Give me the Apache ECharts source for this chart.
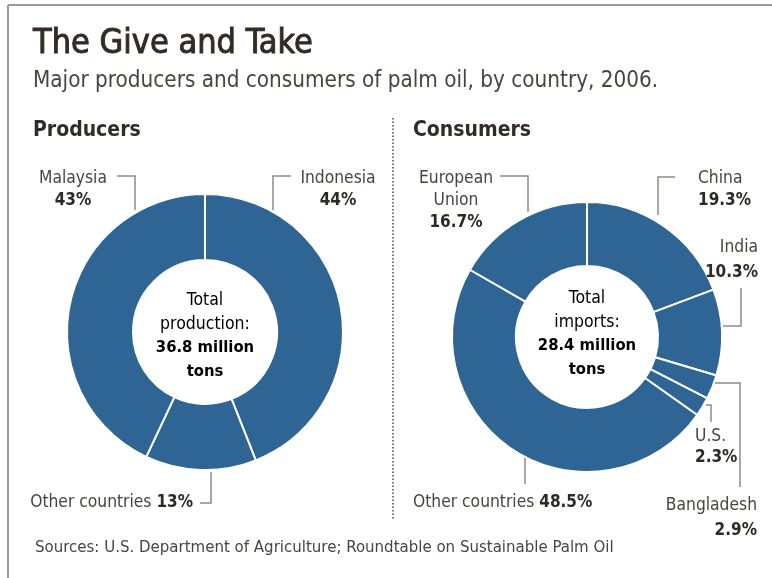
<!DOCTYPE html>
<html>
<head>
<meta charset="utf-8">
<script src="https://cdn.jsdelivr.net/npm/echarts@6/dist/echarts.min.js"></script>
<style>
html,body{margin:0;padding:0;background:#fff;}
#c{width:772px;height:578px;}
</style>
</head>
<body>
<div id="c"></div>
<script>
// ---- data ----
const producerNames = ['Indonesia', 'Other countries', 'Malaysia'];
const producerShares = [44, 13, 43];
const consumerNames = ['China', 'India', 'Bangladesh', 'U.S.', 'Other countries', 'European\nUnion'];
const consumerShares = [19.3, 10.3, 2.9, 2.3, 48.5, 16.7];
const producerTotal = '36.8 million';
const consumerTotal = '28.4 million';

// ---- styling / layout ----
const FONT = '"DejaVu Sans Condensed", "DejaVu Sans", sans-serif';
const BLUE = '#2f6595';
const TXT = '#4a443d';
const DARK = '#2e2923';
const LINE = '#8f8b87';

function fmtPct(v){ return v + '%'; }

// label placements and leader line points
const prodLayout = [
  {x: 338, y: 168, align: 'center', line: [[291,176],[273,176],[273,210]]},
  {x: 193, y: 492, align: 'right', inline: true, line: [[200,503],[211,503],[211,472]]},
  {x: 73,  y: 168, align: 'center', line: [[117,176],[135,176],[135,210]]}
];
const consLayout = [
  {x: 698, y: 168, align: 'left', line: [[675,177],[658,177],[658,215]]},
  {x: 758, y: 235, align: 'right', lh: 25, line: [[741,288],[741,326],[723,326]]},
  {x: 757, y: 493, align: 'right', lh: 25, line: [[715,383],[740,383],[740,487]]},
  {x: 695, y: 426, align: 'left', lh: 21, line: [[706,405],[711,405],[711,422]]},
  {x: 413, y: 492, align: 'left', inline: true, line: [[525,484],[525,457]]},
  {x: 456, y: 168, align: 'center', line: [[500,176],[528,176],[528,212]]}
];

function makeData(names, vals){
  return names.map((n,i)=>({name:n, value:vals[i]}));
}

function labelFormatter(layout){
  return function(p){
    const L = layout[p.dataIndex];
    const k = L.lh ? String(L.lh) : '';
    if (L.inline) return '{n|' + p.name + ' }{b|' + fmtPct(p.value) + '}';
    return p.name.split('\n').map(s=>'{n'+k+'|'+s+'}').join('\n') + '\n{b'+k+'|' + fmtPct(p.value) + '}';
  };
}
function labelLayoutFn(layout){
  return function(p){
    const L = layout[p.dataIndex];
    return {x: L.x, y: L.y, align: L.align, verticalAlign: 'top', labelLinePoints: L.line, hideOverlap: false};
  };
}

const nStyle = {fontFamily: FONT, fontSize: 17.3, color: TXT};
const bStyle = {fontFamily: FONT, fontSize: 17, fontWeight: 'bold', color: DARK};
const richStyle = {
  n: Object.assign({lineHeight: 22}, nStyle),
  b: Object.assign({lineHeight: 22}, bStyle),
  n21: Object.assign({lineHeight: 21}, nStyle),
  b21: Object.assign({lineHeight: 21}, bStyle),
  n25: Object.assign({lineHeight: 25}, nStyle),
  b25: Object.assign({lineHeight: 25}, bStyle)
};

function pieSeries(center, radius, names, vals, layout){
  return {
    type: 'pie',
    center: center,
    radius: radius,
    startAngle: 90,
    clockwise: true,
    silent: true,
    animation: false,
    avoidLabelOverlap: false,
    data: makeData(names, vals),
    itemStyle: {color: BLUE, borderColor: '#fff', borderWidth: 2},
    label: {
      show: true,
      position: 'outside',
      overflow: 'none',
      formatter: labelFormatter(layout),
      rich: richStyle,
      lineHeight: 22,
      padding: 0
    },
    labelLine: {show: true, lineStyle: {color: LINE, width: 1.5}},
    labelLayout: labelLayoutFn(layout)
  };
}

const chart = echarts.init(document.getElementById('c'), null, {renderer: 'canvas'});
chart.setOption({
  backgroundColor: '#fff',
  series: [
    pieSeries([205, 332], [72, 138], producerNames, producerShares, prodLayout),
    pieSeries([587, 337], [71, 135], consumerNames, consumerShares, consLayout)
  ],
  graphic: [
    {type: 'line', shape: {x1: 8, y1: 5, x2: 772, y2: 5}, style: {stroke: '#9a9a9a', lineWidth: 2}},
    {type: 'line', shape: {x1: 8, y1: 5, x2: 8, y2: 578}, style: {stroke: '#9a9a9a', lineWidth: 2}},
    {type: 'line', shape: {x1: 393, y1: 118, x2: 393, y2: 520}, style: {stroke: '#777', lineWidth: 2, lineDash: [1.5, 2]}},
    {type: 'text', x: 33, y: 27, style: {text: 'The Give and Take', font: '34px ' + FONT, fill: '#332c25', stroke: '#332c25', lineWidth: 0.9}},
    {type: 'text', x: 33, y: 70, style: {text: 'Major producers and consumers of palm oil, by country, 2006.', font: '22.3px ' + FONT, fill: '#4a443d'}},
    {type: 'text', x: 33, y: 120, style: {text: 'Producers', font: 'bold 21px ' + FONT, fill: '#332c25'}},
    {type: 'text', x: 413, y: 120, style: {text: 'Consumers', font: 'bold 21px ' + FONT, fill: '#332c25'}},
    {type: 'text', x: 205, y: 288, style: {text: '{n|Total}\n{n|production:}\n{b|' + producerTotal + '}\n{b|tons}', align: 'center', rich: {
      n: {fontFamily: FONT, fontSize: 17.5, color: TXT, lineHeight: 24},
      b: {fontFamily: FONT, fontSize: 16.5, fontWeight: 'bold', color: DARK, lineHeight: 24}}}},
    {type: 'text', x: 587, y: 286, style: {text: '{n|Total}\n{n|imports:}\n{b|' + consumerTotal + '}\n{b|tons}', align: 'center', rich: {
      n: {fontFamily: FONT, fontSize: 17.5, color: TXT, lineHeight: 24},
      b: {fontFamily: FONT, fontSize: 16.5, fontWeight: 'bold', color: DARK, lineHeight: 24}}}},
    {type: 'text', x: 35, y: 539, style: {text: 'Sources: U.S. Department of Agriculture; Roundtable on Sustainable Palm Oil', font: '16.7px ' + FONT, fill: '#4a443d'}}
  ]
});
</script>
</body>
</html>
